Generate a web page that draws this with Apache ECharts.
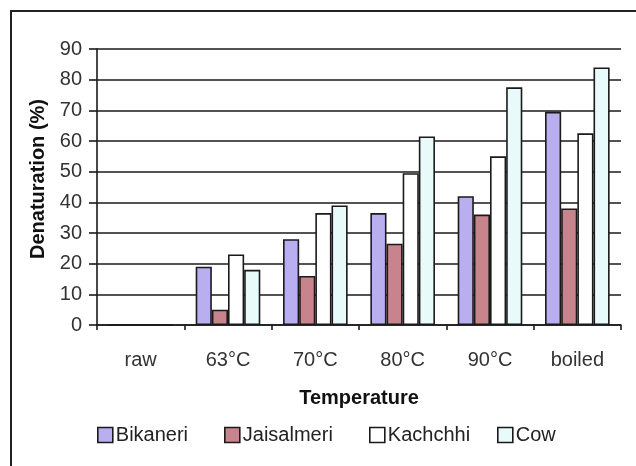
<!DOCTYPE html>
<html>
<head>
<meta charset="utf-8">
<script src="https://cdn.jsdelivr.net/npm/echarts@6/dist/echarts.min.js"></script>
<style>
  html, body { margin: 0; padding: 0; background: #fff; }
  #chart { width: 636px; height: 466px; }
</style>
</head>
<body>
<div id="chart"></div>
<script>
// Heat treatment categories and denaturation (%) per milk type
const categories = ['raw', '63°C', '70°C', '80°C', '90°C', 'boiled'];
const bikaneri   = [0, 19, 28, 36.5, 42, 69.5];
const jaisalmeri = [0, 5, 16, 26.5, 36, 38];
const kachchhi   = [0, 23, 36.5, 49.5, 55, 62.5];
const cow        = [0, 18, 39, 61.5, 77.5, 84];
const yTicks     = [0, 10, 20, 30, 40, 50, 60, 70, 80, 90];
const seriesNames  = ['Bikaneri', 'Jaisalmeri', 'Kachchhi', 'Cow'];
const seriesColors = ['#b8aef0', '#c8848c', '#ffffff', '#e8fafa'];

const FONT = 'Liberation Sans, Arial, sans-serif';
const FS = 20;
const chart = echarts.init(document.getElementById('chart'), null, { renderer: 'canvas' });

function barSeries(i, data) {
  return {
    name: seriesNames[i],
    type: 'bar',
    data: data,
    barGap: '0%',
    barCategoryGap: '26%',
    itemStyle: { color: seriesColors[i], borderColor: '#1a1a1a', borderWidth: 1.6 },
    emphasis: { disabled: true }
  };
}

// one legend entry per slot so each sits in its own column
const legendLefts = [97, 224, 369, 497];
const legends = seriesNames.map((n, i) => ({
  top: 425,
  left: legendLefts[i],
  padding: 0,
  itemWidth: 15,
  itemHeight: 15,
  icon: 'rect',
  selectedMode: false,
  textStyle: { fontFamily: FONT, fontSize: FS, color: '#222', padding: [0, 0, 0, -2] },
  data: [n],
  itemStyle: { borderColor: '#1a1a1a', borderWidth: 1.6 }
}));

chart.setOption({
  animation: false,
  backgroundColor: '#ffffff',
  textStyle: { fontFamily: FONT },
  graphic: [{
    type: 'rect',
    shape: { x: 11, y: 11, width: 700, height: 600 },
    style: { fill: 'none', stroke: '#222', lineWidth: 2 },
    silent: true
  }, {
    type: 'text',
    x: 38,
    y: 179,
    rotation: Math.PI / 2,
    style: {
      text: 'Denaturation (%)',
      font: 'bold ' + FS + 'px ' + FONT,
      fill: '#111',
      align: 'center',
      verticalAlign: 'middle'
    },
    silent: true
  }],
  grid: { left: 97, top: 49, right: 15, bottom: 141, containLabel: false },
  legend: legends,
  xAxis: {
    type: 'category',
    data: categories,
    name: 'Temperature',
    nameLocation: 'middle',
    nameGap: 63,
    nameTextStyle: { fontFamily: FONT, fontSize: FS, fontWeight: 'bold', color: '#111' },
    axisLine: { lineStyle: { color: '#1a1a1a', width: 1.6 } },
    axisTick: { show: true, alignWithLabel: false, length: 5, lineStyle: { color: '#1a1a1a', width: 1.6 } },
    axisLabel: { fontFamily: FONT, fontSize: FS, color: '#333', margin: 25 }
  },
  yAxis: {
    type: 'value',
    min: yTicks[0],
    max: yTicks[yTicks.length - 1],
    interval: 10,
    axisLine: { show: true, lineStyle: { color: '#1a1a1a', width: 1.6 } },
    axisTick: { show: true, length: 8, lineStyle: { color: '#1a1a1a', width: 1.6 } },
    axisLabel: { fontFamily: FONT, fontSize: FS, color: '#333', margin: 15 },
    splitLine: { show: true, lineStyle: { color: '#1a1a1a', width: 1.6 } }
  },
  series: [
    barSeries(0, bikaneri),
    barSeries(1, jaisalmeri),
    barSeries(2, kachchhi),
    barSeries(3, cow)
  ]
});
</script>
</body>
</html>
